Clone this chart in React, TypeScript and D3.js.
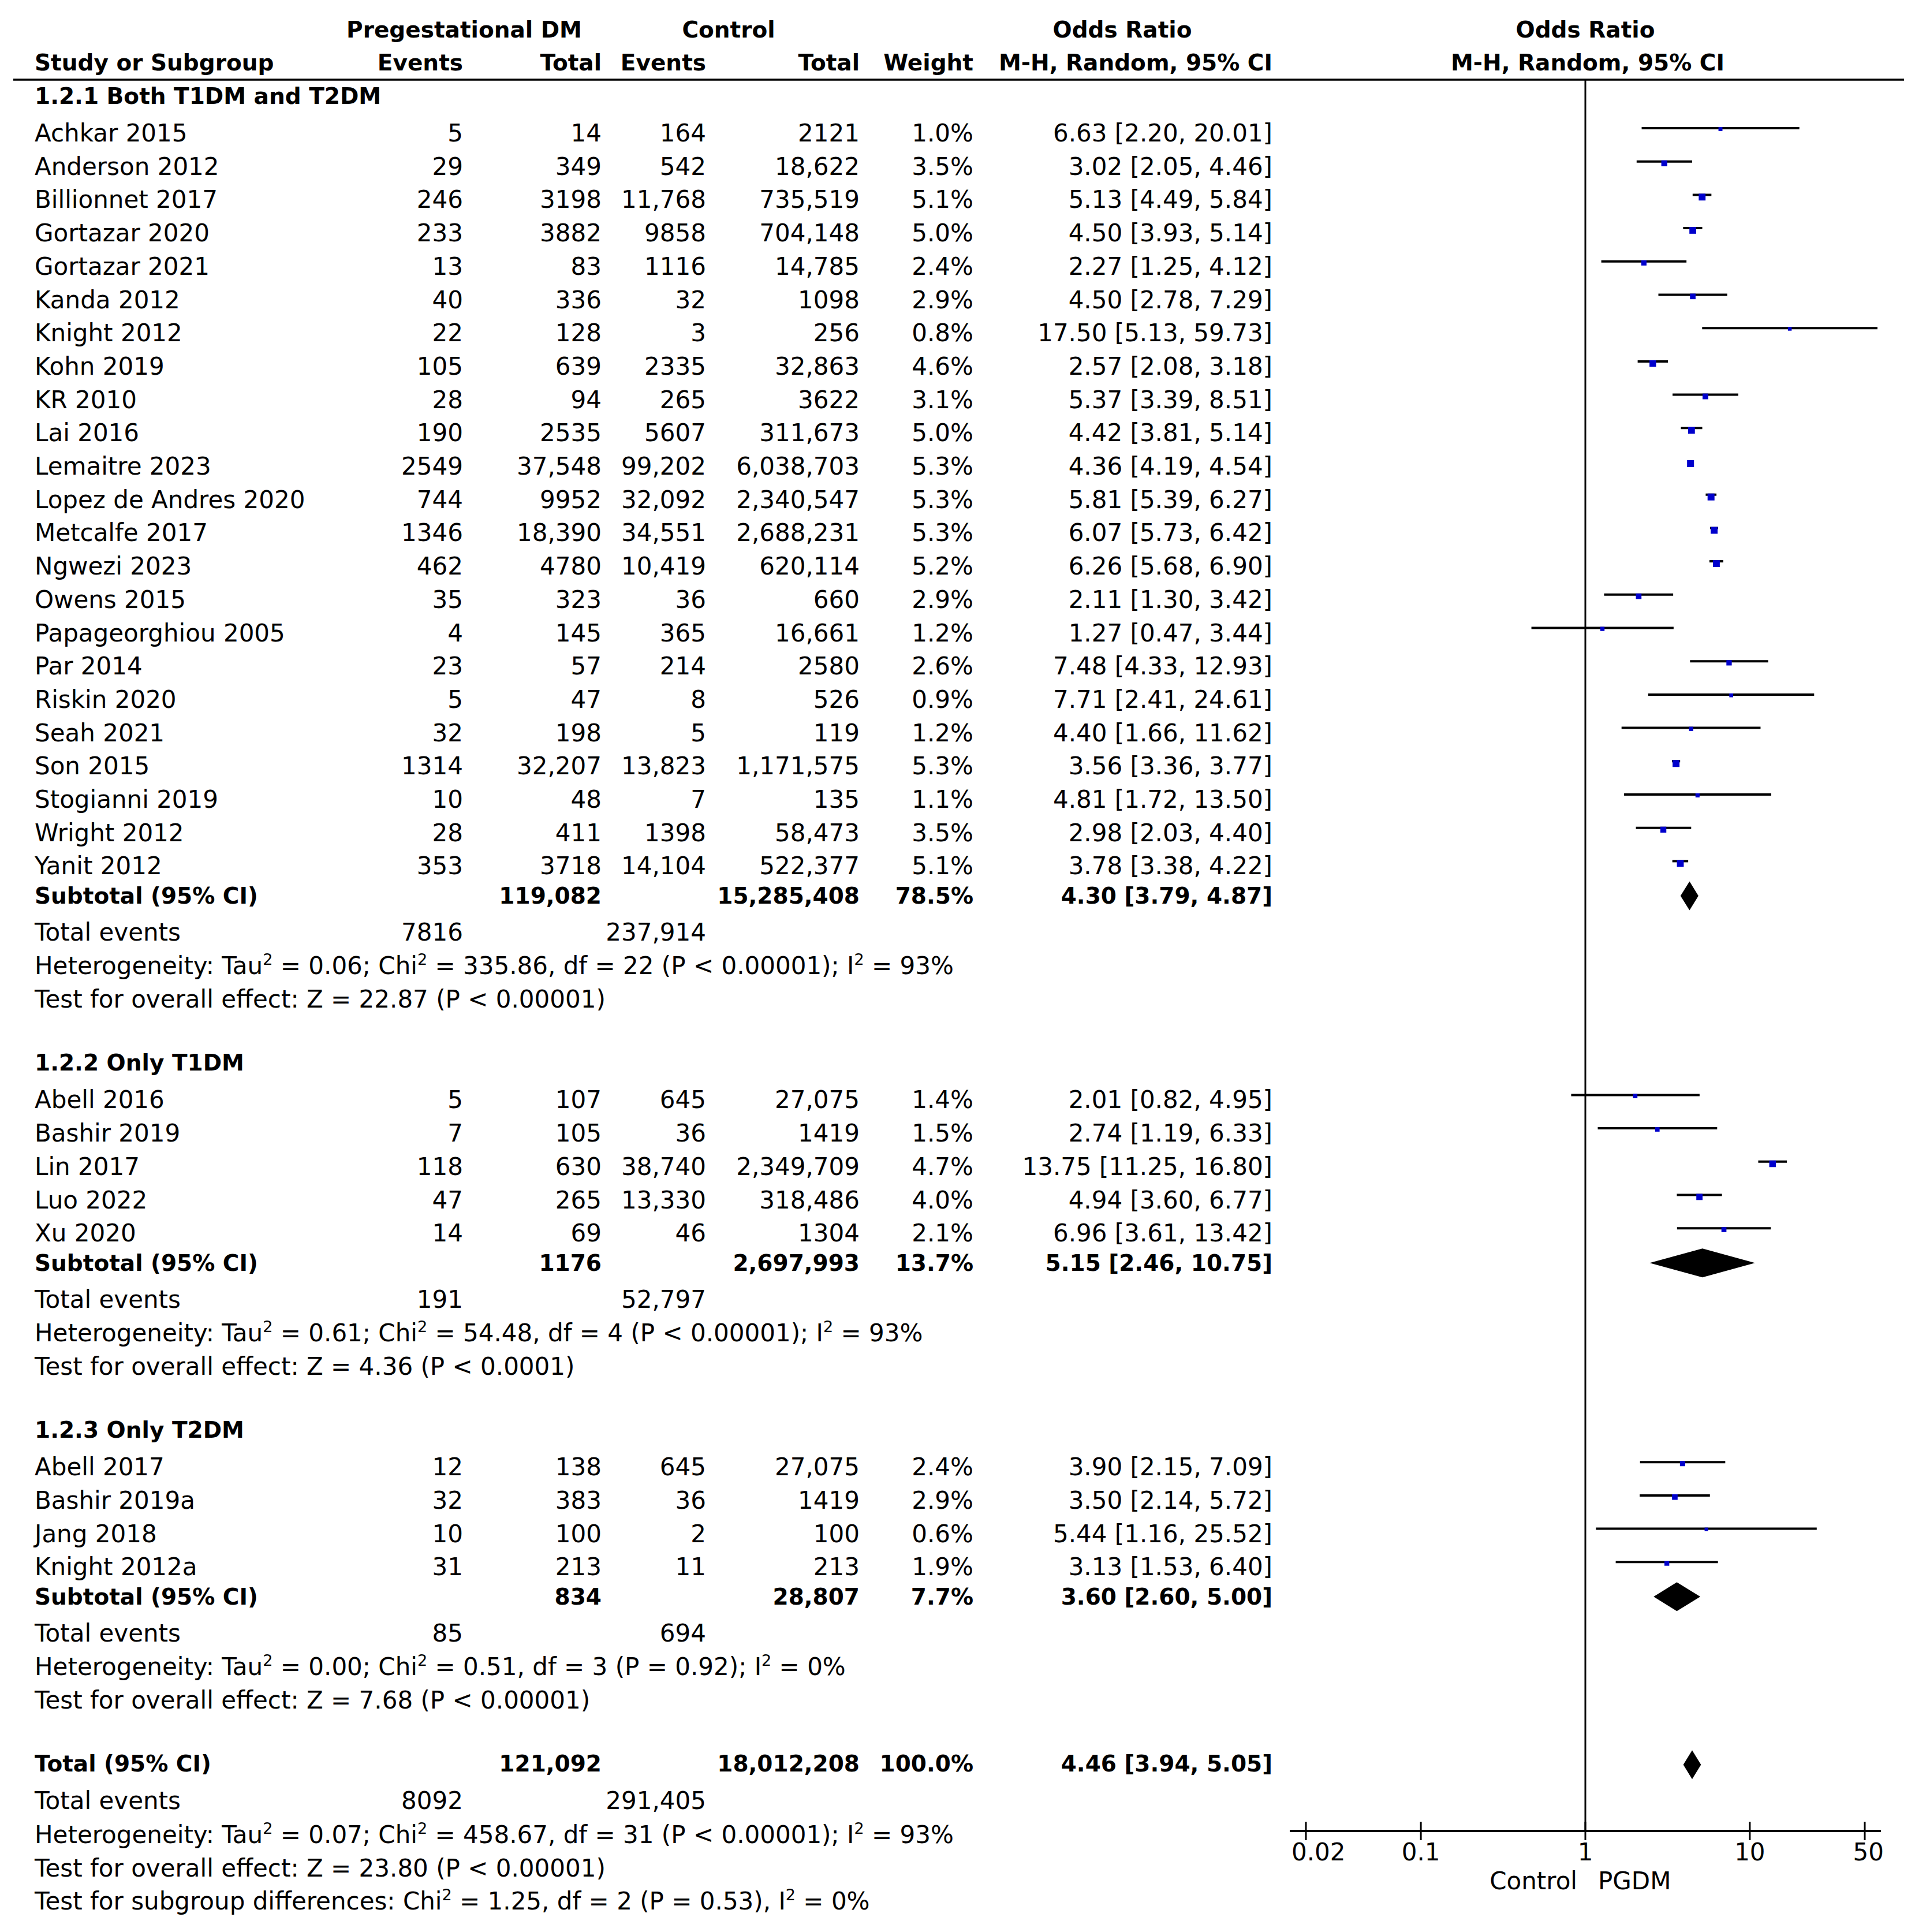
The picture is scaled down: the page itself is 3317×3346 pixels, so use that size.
import React from 'react';
import * as d3 from 'd3';

// study rows: [name, pgdmEvents, pgdmTotal, ctrlEvents, ctrlTotal, weight, or, lo, hi]
type Study = [string, number, number, number, number, number, number, number, number];

const groupNames = ['1.2.1 Both T1DM and T2DM', '1.2.2 Only T1DM', '1.2.3 Only T2DM'];

const group1: Study[] = [
  ['Achkar 2015', 5, 14, 164, 2121, 1.0, 6.63, 2.2, 20.01],
  ['Anderson 2012', 29, 349, 542, 18622, 3.5, 3.02, 2.05, 4.46],
  ['Billionnet 2017', 246, 3198, 11768, 735519, 5.1, 5.13, 4.49, 5.84],
  ['Gortazar 2020', 233, 3882, 9858, 704148, 5.0, 4.5, 3.93, 5.14],
  ['Gortazar 2021', 13, 83, 1116, 14785, 2.4, 2.27, 1.25, 4.12],
  ['Kanda 2012', 40, 336, 32, 1098, 2.9, 4.5, 2.78, 7.29],
  ['Knight 2012', 22, 128, 3, 256, 0.8, 17.5, 5.13, 59.73],
  ['Kohn 2019', 105, 639, 2335, 32863, 4.6, 2.57, 2.08, 3.18],
  ['KR 2010', 28, 94, 265, 3622, 3.1, 5.37, 3.39, 8.51],
  ['Lai 2016', 190, 2535, 5607, 311673, 5.0, 4.42, 3.81, 5.14],
  ['Lemaitre 2023', 2549, 37548, 99202, 6038703, 5.3, 4.36, 4.19, 4.54],
  ['Lopez de Andres 2020', 744, 9952, 32092, 2340547, 5.3, 5.81, 5.39, 6.27],
  ['Metcalfe 2017', 1346, 18390, 34551, 2688231, 5.3, 6.07, 5.73, 6.42],
  ['Ngwezi 2023', 462, 4780, 10419, 620114, 5.2, 6.26, 5.68, 6.9],
  ['Owens 2015', 35, 323, 36, 660, 2.9, 2.11, 1.3, 3.42],
  ['Papageorghiou 2005', 4, 145, 365, 16661, 1.2, 1.27, 0.47, 3.44],
  ['Par 2014', 23, 57, 214, 2580, 2.6, 7.48, 4.33, 12.93],
  ['Riskin 2020', 5, 47, 8, 526, 0.9, 7.71, 2.41, 24.61],
  ['Seah 2021', 32, 198, 5, 119, 1.2, 4.4, 1.66, 11.62],
  ['Son 2015', 1314, 32207, 13823, 1171575, 5.3, 3.56, 3.36, 3.77],
  ['Stogianni 2019', 10, 48, 7, 135, 1.1, 4.81, 1.72, 13.5],
  ['Wright 2012', 28, 411, 1398, 58473, 3.5, 2.98, 2.03, 4.4],
  ['Yanit 2012', 353, 3718, 14104, 522377, 5.1, 3.78, 3.38, 4.22],
];

const group2: Study[] = [
  ['Abell 2016', 5, 107, 645, 27075, 1.4, 2.01, 0.82, 4.95],
  ['Bashir 2019', 7, 105, 36, 1419, 1.5, 2.74, 1.19, 6.33],
  ['Lin 2017', 118, 630, 38740, 2349709, 4.7, 13.75, 11.25, 16.8],
  ['Luo 2022', 47, 265, 13330, 318486, 4.0, 4.94, 3.6, 6.77],
  ['Xu 2020', 14, 69, 46, 1304, 2.1, 6.96, 3.61, 13.42],
];

const group3: Study[] = [
  ['Abell 2017', 12, 138, 645, 27075, 2.4, 3.9, 2.15, 7.09],
  ['Bashir 2019a', 32, 383, 36, 1419, 2.9, 3.5, 2.14, 5.72],
  ['Jang 2018', 10, 100, 2, 100, 0.6, 5.44, 1.16, 25.52],
  ['Knight 2012a', 31, 213, 11, 213, 1.9, 3.13, 1.53, 6.4],
];

// pooled: [pgdmTotal, ctrlTotal, weight, or, lo, hi, pgdmEvents, ctrlEvents]
const subtotals: number[][] = [
  [119082, 15285408, 78.5, 4.3, 3.79, 4.87, 7816, 237914],
  [1176, 2697993, 13.7, 5.15, 2.46, 10.75, 191, 52797],
  [834, 28807, 7.7, 3.6, 2.6, 5.0, 85, 694],
];
const overall = [121092, 18012208, 100.0, 4.46, 3.94, 5.05, 8092, 291405];

const heterogeneity = [
  'Heterogeneity: Tau^2 = 0.06; Chi^2 = 335.86, df = 22 (P < 0.00001); I^2 = 93%',
  'Heterogeneity: Tau^2 = 0.61; Chi^2 = 54.48, df = 4 (P < 0.00001); I^2 = 93%',
  'Heterogeneity: Tau^2 = 0.00; Chi^2 = 0.51, df = 3 (P = 0.92); I^2 = 0%',
  'Heterogeneity: Tau^2 = 0.07; Chi^2 = 458.67, df = 31 (P < 0.00001); I^2 = 93%',
];
const overallEffect = [
  'Test for overall effect: Z = 22.87 (P < 0.00001)',
  'Test for overall effect: Z = 4.36 (P < 0.0001)',
  'Test for overall effect: Z = 7.68 (P < 0.00001)',
  'Test for overall effect: Z = 23.80 (P < 0.00001)',
];
const subgroupTest = 'Test for subgroup differences: Chi^2 = 1.25, df = 2 (P = 0.53), I^2 = 0%';

const ticks = [0.02, 0.1, 1, 10, 50];

const W = 3317;
const H = 3346;
const FONT = 'DejaVu Sans';
const FS = 42;
const FSB = 39;
const col = { name: 60, e1: 802, n1: 1042, e2: 1223, n2: 1489, w: 1686, ci: 2204 };

const x = d3.scaleLog().domain([0.02, 50]).range([2262, 3230]);
const markSize = d3.scaleSqrt().domain([0, 5.3]).range([3, 12]);

const fmtN = (n: number) => (n >= 10000 ? d3.format(',')(n) : String(n));
const fmtCI = (o: number, l: number, h: number) =>
  `${o.toFixed(2)} [${l.toFixed(2)}, ${h.toFixed(2)}]`;

const Sup: React.FC<{ text: string; x: number; y: number }> = ({ text, x: tx, y }) => {
  const parts = text.split('^2');
  return (
    <text x={tx} y={y}>
      {parts.map((p, i) => (
        <React.Fragment key={i}>
          <tspan dy={i > 0 ? 16 : 0}>{p}</tspan>
          {i < parts.length - 1 && (
            <tspan dy={-16} fontSize={27}>
              2
            </tspan>
          )}
        </React.Fragment>
      ))}
    </text>
  );
};

const T: React.FC<{ x: number; y: number; a?: string; b?: boolean; children: React.ReactNode }> = ({
  x: tx,
  y,
  a,
  b,
  children,
}) => (
  <text
    x={tx}
    y={y}
    textAnchor={a || 'start'}
    fontWeight={b ? 'bold' : 'normal'}
    fontSize={b ? FSB : FS}
  >
    {children}
  </text>
);

const App: React.FC = () => {
  const groups = [group1, group2, group3];
  const els: React.ReactNode[] = [];
  const rowH = 57.7;
  let y = 180;
  let k = 0;

  const diamond = (o: number, l: number, h: number, yy: number) => {
    const cy = yy - 14;
    return (
      <path
        key={`d${k++}`}
        d={`M${x(l)},${cy}L${x(o)},${cy - 25}L${x(h)},${cy}L${x(o)},${cy + 25}Z`}
        fill="#000"
      />
    );
  };

  groups.forEach((g, gi) => {
    els.push(<T key={`h${gi}`} x={col.name} y={y} b>{groupNames[gi]}</T>);
    y += 65;
    g.forEach((s, si) => {
      const [name, e1, n1, e2, n2, w, o, l, h] = s;
      const ly = y - 23;
      const sz = markSize(w);
      els.push(
        <g key={`s${gi}-${si}`}>
          <T x={col.name} y={y}>{name}</T>
          <T x={col.e1} y={y} a="end">{fmtN(e1)}</T>
          <T x={col.n1} y={y} a="end">{fmtN(n1)}</T>
          <T x={col.e2} y={y} a="end">{fmtN(e2)}</T>
          <T x={col.n2} y={y} a="end">{fmtN(n2)}</T>
          <T x={col.w} y={y} a="end">{w.toFixed(1)}%</T>
          <T x={col.ci} y={y} a="end">{fmtCI(o, l, h)}</T>
          <line x1={x(l)} x2={x(h)} y1={ly} y2={ly} stroke="#000" strokeWidth={4} />
          <rect x={x(o) - sz / 2} y={ly - 2} width={sz} height={sz} fill="#0000CC" />
        </g>
      );
      if (si < g.length - 1) y += rowH;
    });
    y += 51;
    const st = subtotals[gi];
    els.push(
      <g key={`st${gi}`}>
        <T x={col.name} y={y} b>Subtotal (95% CI)</T>
        <T x={col.n1} y={y} a="end" b>{fmtN(st[0])}</T>
        <T x={col.n2} y={y} a="end" b>{fmtN(st[1])}</T>
        <T x={col.w} y={y} a="end" b>{st[2].toFixed(1)}%</T>
        <T x={col.ci} y={y} a="end" b>{fmtCI(st[3], st[4], st[5])}</T>
      </g>
    );
    els.push(diamond(st[3], st[4], st[5], y));
    y += 64;
    els.push(
      <g key={`te${gi}`}>
        <T x={col.name} y={y}>Total events</T>
        <T x={col.e1} y={y} a="end">{fmtN(st[6])}</T>
        <T x={col.e2} y={y} a="end">{fmtN(st[7])}</T>
      </g>
    );
    y += 58;
    els.push(<Sup key={`het${gi}`} text={heterogeneity[gi]} x={col.name} y={y} />);
    y += 58;
    els.push(<T key={`oe${gi}`} x={col.name} y={y}>{overallEffect[gi]}</T>);
    y += 109;
  });

  els.push(
    <g key="tot">
      <T x={col.name} y={y} b>Total (95% CI)</T>
      <T x={col.n1} y={y} a="end" b>{fmtN(overall[0])}</T>
      <T x={col.n2} y={y} a="end" b>{fmtN(overall[1])}</T>
      <T x={col.w} y={y} a="end" b>{overall[2].toFixed(1)}%</T>
      <T x={col.ci} y={y} a="end" b>{fmtCI(overall[3], overall[4], overall[5])}</T>
    </g>
  );
  els.push(diamond(overall[3], overall[4], overall[5], y + 2));
  y += 65;
  els.push(
    <g key="tote">
      <T x={col.name} y={y}>Total events</T>
      <T x={col.e1} y={y} a="end">{fmtN(overall[6])}</T>
      <T x={col.e2} y={y} a="end">{fmtN(overall[7])}</T>
    </g>
  );
  y += 59;
  els.push(<Sup key="thet" text={heterogeneity[3]} x={col.name} y={y} />);
  y += 58;
  els.push(<T key="toe" x={col.name} y={y}>{overallEffect[3]}</T>);
  y += 57;
  els.push(<Sup key="sg" text={subgroupTest} x={col.name} y={y} />);

  const axisY = 3171;
  const x1 = x(1);
  const axL = x(0.02) - 28;
  const axR = x(50) + 28;

  return (
    <svg
      width={W}
      height={H}
      style={{ position: 'absolute', left: 0, top: 0, background: '#fff' }}
      fontFamily={FONT}
      fontSize={FS}
      fill="#000"
    >
      <rect width={W} height={H} fill="#fff" />
      {/* header */}
      <T x={804} y={65} a="middle" b>Pregestational DM</T>
      <T x={1262} y={65} a="middle" b>Control</T>
      <T x={1944} y={65} a="middle" b>Odds Ratio</T>
      <T x={x1} y={65} a="middle" b>Odds Ratio</T>
      <T x={col.name} y={122} b>Study or Subgroup</T>
      <T x={col.e1} y={122} a="end" b>Events</T>
      <T x={col.n1} y={122} a="end" b>Total</T>
      <T x={col.e2} y={122} a="end" b>Events</T>
      <T x={col.n2} y={122} a="end" b>Total</T>
      <T x={col.w} y={122} a="end" b>Weight</T>
      <T x={col.ci} y={122} a="end" b>M-H, Random, 95% CI</T>
      <T x={x1 + 4} y={122} a="middle" b>M-H, Random, 95% CI</T>
      <line x1={23} x2={3298} y1={138} y2={138} stroke="#000" strokeWidth={3.5} />
      {/* null line */}
      <line x1={x1} x2={x1} y1={138} y2={axisY} stroke="#000" strokeWidth={3} />
      {els}
      {/* axis */}
      <line x1={axL} x2={axR} y1={axisY} y2={axisY} stroke="#000" strokeWidth={4} />
      {ticks.map((t, i) => (
        <g key={t}>
          <line x1={x(t)} x2={x(t)} y1={axisY - 16} y2={axisY + 16} stroke="#000" strokeWidth={3} />
          <T
            x={i === 0 ? axL + 3 : i === ticks.length - 1 ? axR + 5 : x(t)}
            y={axisY + 51}
            a={i === 0 ? 'start' : i === ticks.length - 1 ? 'end' : 'middle'}
          >
            {String(t)}
          </T>
        </g>
      ))}
      <T x={x1 - 14} y={axisY + 101} a="end">Control</T>
      <T x={x1 + 22} y={axisY + 101}>PGDM</T>
    </svg>
  );
};

export default App;
